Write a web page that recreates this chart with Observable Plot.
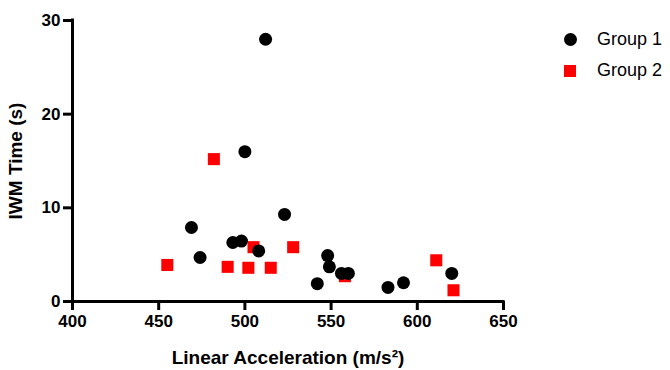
<!DOCTYPE html>
<html>
<head>
<meta charset="utf-8">
<script src="https://cdn.jsdelivr.net/npm/d3@7"></script>
<script src="https://cdn.jsdelivr.net/npm/@observablehq/plot@0.6"></script>
<style>
  body { margin: 0; background: #fff; }
  #wrap { position: relative; width: 670px; height: 370px; font-family: "Liberation Sans", Arial, sans-serif; }
  #legend { position: absolute; left: 562px; top: 24px; font-size: 18px; color: #000; }
  .item { display: flex; align-items: center; height: 31px; }
  .sym { width: 16px; display: flex; justify-content: center; margin-right: 19px; }
  .circ { width: 13px; height: 13px; border-radius: 50%; background: #000; }
  .sq { width: 12px; height: 12px; background: #ff0000; }
</style>
</head>
<body>
<div id="wrap"></div>
<script>
const groups = ["Group 1", "Group 2"];
const colors = ["#000000", "#ff0000"];
const g1x = [512, 500, 469, 474, 493, 498, 508, 523, 548, 549, 556, 560, 542, 583, 592, 620];
const g1y = [28, 16, 7.9, 4.7, 6.3, 6.45, 5.4, 9.3, 4.9, 3.7, 3.0, 3.0, 1.9, 1.5, 2.0, 3.0];
const g2x = [482, 455, 490, 502, 515, 505, 528, 558, 611, 621];
const g2y = [15.2, 3.9, 3.7, 3.6, 3.6, 5.8, 5.8, 2.7, 4.4, 1.2];
const xTicks = [400, 450, 500, 550, 600, 650];
const yTicks = [0, 10, 20, 30];
const xTitle = "Linear Acceleration (m/s²)";
const yTitle = "IWM Time (s)";

const d1 = g1x.map((x, i) => ({x, y: g1y[i]}));
const d2 = g2x.map((x, i) => ({x, y: g2y[i]}));

const plot = Plot.plot({
  width: 670,
  height: 370,
  marginLeft: 72,
  marginRight: 167,
  marginTop: 20,
  marginBottom: 69,
  style: {fontFamily: "'Liberation Sans', Arial, sans-serif", color: "#000", background: "#fff"},
  x: {domain: [400, 650]},
  y: {domain: [0, 30]},
  marks: [
    Plot.axisX({ticks: xTicks, tickSize: 9, tickPadding: 4, strokeWidth: 3, fontSize: 17, fontWeight: "bold", label: null}),
    Plot.axisY({ticks: yTicks, tickSize: 9, tickPadding: 3, strokeWidth: 3, fontSize: 17, fontWeight: "bold", label: null}),
    Plot.axisX({ticks: [], tickSize: 0, label: xTitle, labelAnchor: "center", labelArrow: "none", labelOffset: 62, fontSize: 19, fontWeight: "bold"}),
    Plot.axisY({ticks: [], tickSize: 0, label: yTitle, labelAnchor: "center", labelArrow: "none", labelOffset: 64, fontSize: 19, fontWeight: "bold"}),
    Plot.ruleY([0], {x1: 400, x2: 650, stroke: "#000", strokeWidth: 3, strokeLinecap: "square"}),
    Plot.ruleX([400], {y1: 0, y2: 30, stroke: "#000", strokeWidth: 3, strokeLinecap: "square"}),
    Plot.dot(d2, {x: "x", y: "y", symbol: "square", r: 6.8, fill: colors[1], stroke: "none"}),
    Plot.dot(d1, {x: "x", y: "y", symbol: "circle", r: 6.5, fill: colors[0], stroke: "none"})
  ]
});

const wrap = document.getElementById("wrap");
wrap.appendChild(plot);
const legend = document.createElement("div");
legend.id = "legend";
legend.innerHTML = groups.map((g, i) =>
  `<div class="item"><div class="sym"><div class="${i === 0 ? "circ" : "sq"}"></div></div><span>${g}</span></div>`
).join("");
wrap.appendChild(legend);
</script>
</body>
</html>
